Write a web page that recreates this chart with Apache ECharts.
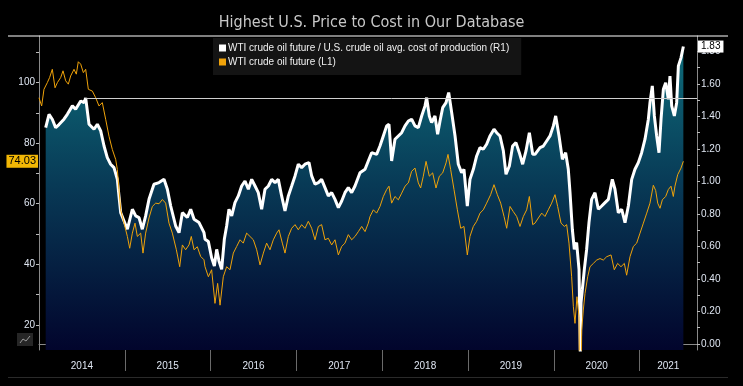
<!DOCTYPE html>
<html><head><meta charset="utf-8">
<script src="https://cdn.jsdelivr.net/npm/echarts@6/dist/echarts.min.js"></script>
<style>html,body{margin:0;padding:0;background:#000;}#c{width:743px;height:386px;}</style>
</head><body><div id="c"></div>
<script>
const titleText = 'Highest U.S. Price to Cost in Our Database';
const ratioName = 'WTI crude oil future / U.S. crude oil avg. cost of production (R1)';
const oilName = 'WTI crude oil future (L1)';

// x = decimal year, y = value
const ratioData = [
[2014.078,1.331],[2014.117,1.413],[2014.155,1.383],[2014.194,1.331],[2014.233,1.35],[2014.291,1.383],[2014.330,1.413],[2014.389,1.465],[2014.427,1.444],[2014.486,1.495],[2014.525,1.485],[2014.544,1.514],[2014.583,1.352],[2014.641,1.321],[2014.680,1.352],[2014.719,1.311],[2014.758,1.218],[2014.796,1.147],[2014.835,1.106],[2014.874,1.085],[2014.913,1.013],[2014.932,0.911],[2014.952,0.808],[2014.991,0.757],[2015.030,0.706],[2015.088,0.829],[2015.127,0.788],[2015.166,0.778],[2015.204,0.706],[2015.243,0.788],[2015.282,0.890],[2015.340,0.983],[2015.399,0.993],[2015.457,1.013],[2015.496,0.952],[2015.535,0.849],[2015.593,0.726],[2015.632,0.685],[2015.671,0.808],[2015.729,0.778],[2015.768,0.829],[2015.807,0.767],[2015.865,0.747],[2015.923,0.685],
[2015.935,0.644],[2015.974,0.63],[2016.012,0.531],[2016.044,0.48],[2016.071,0.582],[2016.098,0.51],[2016.129,0.459],[2016.160,0.644],[2016.187,0.726],[2016.214,0.829],[2016.246,0.788],[2016.284,0.870],[2016.323,0.911],[2016.362,0.972],[2016.401,1.003],[2016.440,0.952],[2016.479,1.013],[2016.518,0.972],[2016.556,0.931],[2016.595,0.829],[2016.634,0.952],[2016.673,0.972],[2016.712,1.013],[2016.751,0.993],[2016.789,1.013],[2016.828,0.911],[2016.867,0.818],[2016.906,0.911],[2016.945,0.972],[2016.984,1.034],[2017.022,1.106],[2017.061,1.085],[2017.100,1.106],[2017.147,1.116],[2017.178,1.034],[2017.217,0.983],[2017.256,0.993],[2017.294,1.013],[2017.333,0.962],[2017.372,0.911],[2017.411,0.931],[2017.450,0.890],[2017.489,0.839],[2017.528,0.880],[2017.566,0.931],[2017.605,0.962],[2017.644,0.931],[2017.683,0.972],[2017.741,1.054],[2017.800,1.075],[2017.838,1.126],[2017.877,1.177],
[2017.897,1.177],[2017.935,1.167],[2017.974,1.218],[2018.013,1.28],[2018.052,1.342],[2018.079,1.352],[2018.110,1.126],[2018.149,1.26],[2018.188,1.28],[2018.227,1.3],[2018.266,1.342],[2018.305,1.372],[2018.343,1.383],[2018.382,1.342],[2018.421,1.331],[2018.460,1.403],[2018.499,1.465],[2018.518,1.516],[2018.549,1.403],[2018.576,1.362],[2018.615,1.403],[2018.646,1.29],[2018.674,1.372],[2018.705,1.454],[2018.744,1.485],[2018.775,1.547],[2018.810,1.423],[2018.849,1.28],[2018.887,1.106],[2018.926,1.054],[2018.953,1.075],[2018.992,0.849],[2019.023,1.013],[2019.062,1.075],[2019.101,1.157],[2019.140,1.208],[2019.178,1.198],[2019.217,1.229],[2019.256,1.28],[2019.303,1.321],[2019.334,1.3],[2019.373,1.28],[2019.412,1.188],[2019.443,1.044],[2019.482,1.095],[2019.520,1.218],[2019.559,1.239],[2019.598,1.177],[2019.637,1.106],[2019.676,1.188],[2019.715,1.3],[2019.754,1.167],
[2019.781,1.167],[2019.839,1.208],[2019.878,1.218],[2019.917,1.249],[2019.956,1.28],[2019.995,1.342],[2020.022,1.403],[2020.061,1.28],[2020.100,1.136],[2020.138,1.177],[2020.169,1.075],[2020.189,0.931],[2020.216,0.706],[2020.239,0.583],[2020.266,0.624],[2020.294,0.459],[2020.309,-0.05],[2020.317,0.254],[2020.333,0.337],[2020.356,0.459],[2020.383,0.583],[2020.410,0.747],[2020.441,0.890],[2020.480,0.931],[2020.519,0.829],[2020.558,0.849],[2020.597,0.870],[2020.636,0.890],[2020.682,1.013],[2020.713,0.952],[2020.752,0.808],[2020.791,0.829],[2020.830,0.747],[2020.869,0.849],[2020.908,1.013],[2020.946,1.075],[2020.985,1.116],[2021.024,1.177],[2021.063,1.26],[2021.102,1.383],[2021.121,1.485],[2021.148,1.588],[2021.172,1.403],[2021.199,1.28],[2021.226,1.177],[2021.250,1.383],[2021.277,1.567],[2021.304,1.608],[2021.335,1.506],[2021.354,1.649],[2021.374,1.465],[2021.405,1.403],[2021.432,1.485],[2021.452,1.711],[2021.483,1.762],[2021.510,1.83]
];

const oilData = [
[2014.000,95.0],[2014.031,92.3],[2014.058,97.8],[2014.097,100.0],[2014.124,101.7],[2014.155,104.4],[2014.187,98.3],[2014.214,100.0],[2014.253,101.7],[2014.280,103.9],[2014.311,100.6],[2014.342,99.5],[2014.369,102.2],[2014.408,104.4],[2014.435,102.8],[2014.458,106.9],[2014.486,106.1],[2014.517,103.3],[2014.544,104.4],[2014.575,97.8],[2014.622,97.2],[2014.661,95.0],[2014.699,92.3],[2014.738,93.4],[2014.777,87.9],[2014.816,82.3],[2014.855,77.9],[2014.894,74.6],[2014.913,71.3],[2014.932,64.7],[2014.952,58.0],[2014.991,53.6],[2015.030,49.2],[2015.057,45.3],[2015.088,50.3],[2015.119,53.6],[2015.146,49.2],[2015.185,50.3],[2015.212,43.7],[2015.243,50.3],[2015.282,55.3],[2015.321,59.1],[2015.360,60.2],[2015.399,60.0],[2015.438,61.4],[2015.476,60.2],[2015.515,53.6],[2015.554,50.3],[2015.601,44.8],[2015.640,39.2],[2015.671,46.4],[2015.709,44.8],[2015.748,46.4],[2015.775,49.2],[2015.807,44.8],[2015.845,45.8],[2015.884,42.6],[2015.923,41.5],
[2015.935,39.2],[2015.974,35.9],[2016.012,38.2],[2016.051,27.1],[2016.082,33.7],[2016.110,26.5],[2016.148,35.9],[2016.187,39.2],[2016.226,38.2],[2016.265,43.7],[2016.304,45.9],[2016.343,48.1],[2016.381,47.0],[2016.420,50.3],[2016.459,49.2],[2016.498,48.1],[2016.537,44.8],[2016.576,39.8],[2016.615,43.7],[2016.653,47.0],[2016.692,44.8],[2016.731,48.1],[2016.770,50.3],[2016.797,51.4],[2016.836,47.0],[2016.867,43.7],[2016.906,49.2],[2016.945,51.9],[2016.984,53.1],[2017.022,51.4],[2017.061,53.1],[2017.100,51.9],[2017.139,54.2],[2017.178,51.9],[2017.217,48.1],[2017.256,52.5],[2017.294,53.1],[2017.333,48.1],[2017.372,48.6],[2017.411,46.4],[2017.450,48.1],[2017.489,43.1],[2017.528,45.9],[2017.566,47.0],[2017.605,49.8],[2017.644,48.1],[2017.683,49.2],[2017.722,50.8],[2017.761,52.5],[2017.800,50.8],[2017.838,53.6],
[2017.858,55.8],[2017.897,58.0],[2017.935,56.9],[2017.974,59.1],[2018.013,62.4],[2018.052,64.7],[2018.079,65.8],[2018.110,60.2],[2018.149,62.4],[2018.188,61.3],[2018.227,63.5],[2018.266,65.8],[2018.305,66.9],[2018.343,70.7],[2018.382,71.8],[2018.421,66.9],[2018.448,65.2],[2018.479,69.1],[2018.511,74.0],[2018.549,69.1],[2018.588,70.2],[2018.627,65.2],[2018.666,69.1],[2018.705,70.2],[2018.744,73.5],[2018.767,76.3],[2018.798,71.3],[2018.837,64.7],[2018.876,58.0],[2018.915,51.9],[2018.953,52.5],[2018.992,43.1],[2019.023,49.2],[2019.062,52.5],[2019.101,54.2],[2019.140,56.9],[2019.178,58.0],[2019.217,60.2],[2019.264,63.0],[2019.303,66.3],[2019.342,63.0],[2019.381,60.2],[2019.420,55.8],[2019.451,51.9],[2019.490,59.1],[2019.528,57.4],[2019.567,55.8],[2019.606,52.5],[2019.645,55.8],[2019.684,58.0],[2019.715,62.4],[2019.754,53.1],
[2019.781,53.6],[2019.820,55.3],[2019.859,56.9],[2019.897,55.8],[2019.936,58.0],[2019.975,60.2],[2020.014,63.0],[2020.045,59.1],[2020.084,53.6],[2020.123,52.5],[2020.150,53.1],[2020.177,47.0],[2020.208,35.9],[2020.228,26.0],[2020.247,20.5],[2020.270,29.3],[2020.294,22.7],[2020.309,-37.6],[2020.325,18.3],[2020.344,24.9],[2020.364,30.4],[2020.395,35.9],[2020.422,39.2],[2020.461,40.3],[2020.500,41.4],[2020.539,41.9],[2020.577,41.4],[2020.616,42.5],[2020.667,43.1],[2020.705,38.2],[2020.744,40.3],[2020.783,39.2],[2020.822,40.3],[2020.849,36.4],[2020.888,42.5],[2020.927,45.9],[2020.966,47.0],[2021.005,50.3],[2021.044,53.6],[2021.083,56.9],[2021.121,60.2],[2021.160,66.1],[2021.187,64.4],[2021.211,60.2],[2021.238,58.5],[2021.265,61.3],[2021.304,62.4],[2021.335,64.7],[2021.366,65.8],[2021.393,62.4],[2021.412,65.8],[2021.444,69.6],[2021.483,71.8],[2021.510,74.03]
];

const yearLabels = ['2014','2015','2016','2017','2018','2019','2020','2021'];
const yearLabelPos = [2014.5,2015.5,2016.5,2017.5,2018.5,2019.5,2020.5,2021.334];
const yearBounds = [2015,2016,2017,2018,2019,2020,2021];
const quarterTicks = [2014.25,2014.5,2014.75,2015.25,2015.5,2015.75,2016.25,2016.5,2016.75,2017.25,2017.5,2017.75,2018.25,2018.5,2018.75,2019.25,2019.5,2019.75,2020.25,2020.5,2020.75,2021.25,2021.5];
const leftLabels = [20,40,60,80,100];
const leftTicks = [20,30,40,50,60,70,80,90,100,110];
const rightLabels = [0,0.2,0.4,0.6,0.8,1.0,1.2,1.4,1.6,1.8];
const rightTicks = [0,0.1,0.2,0.3,0.4,0.5,0.6,0.7,0.8,0.9,1.0,1.1,1.2,1.3,1.4,1.5,1.6,1.7,1.8];
const lastOil = 74.03;
const lastRatio = 1.83;
const refLevel = 1.514;
const refStart = 2014.544;
const xMin = 2014, xMax = 2021.669;
const leftMin = 11.7, leftMax = 115.4;
const rightMin = -0.037, rightMax = 1.895;

const chart = echarts.init(document.getElementById('c'), null, {renderer: 'canvas'});
const labelFont = 'Liberation Sans';
const option = {
  backgroundColor: '#000',
  animation: false,
  title: {
    text: titleText, left: 'center', top: 10,
    textStyle: {color: '#c8c8c8', fontSize: 16, fontWeight: 'normal',
      fontFamily: "'Liberation Sans Narrow','DejaVu Sans Condensed','Roboto Condensed',Roboto,sans-serif"}
  },
  legend: {
    orient: 'vertical', left: 213, top: 38, icon: 'rect', itemWidth: 7, itemHeight: 7, itemGap: 4,
    backgroundColor: '#141414', padding: [5, 12, 8, 6],
    textStyle: {color: '#f0f0f0', fontSize: 10, fontFamily: labelFont, padding: [0, 0, 0, -3]},
    data: [ratioName, oilName]
  },
  grid: {left: 39, right: 46, top: 36, bottom: 36},
  xAxis: [{
    type: 'value', min: xMin, max: xMax,
    axisLine: {lineStyle: {color: '#8a8a8a'}},
    splitLine: {show: false},
    axisTick: {customValues: yearBounds, length: 27, lineStyle: {color: '#6a6a6a'}},
    axisLabel: {customValues: yearLabelPos, formatter: v => yearLabels[yearLabelPos.indexOf(v)],
      color: '#dfe6f2', fontSize: 10, margin: 11, fontFamily: labelFont}
  }, {
    type: 'value', min: xMin, max: xMax, position: 'bottom',
    axisLine: {show: false}, splitLine: {show: false}, axisLabel: {show: false},
    axisTick: {customValues: quarterTicks, inside: true, length: 3, lineStyle: {color: '#8a8a8a'}}
  }],
  yAxis: [{
    type: 'value', position: 'left', min: leftMin, max: leftMax,
    axisLine: {show: true, lineStyle: {color: '#8a8a8a'}},
    splitLine: {show: false},
    axisTick: {show: true, customValues: leftTicks, length: 3, lineStyle: {color: '#bbb'}},
    axisLabel: {customValues: leftLabels, color: '#dfe6f2', fontSize: 10, margin: 4, fontFamily: labelFont},
    axisPointer: {show: true, value: lastOil, status: 'show', triggerTooltip: false, type: 'line',
      lineStyle: {opacity: 0},
      label: {show: true, formatter: p => Number(p.value).toFixed(2), backgroundColor: '#f2b705', color: '#000',
        fontSize: 11, fontFamily: labelFont, padding: [1, 2, 1, 2], margin: 1, borderRadius: 0}}
  }, {
    type: 'value', position: 'right', min: rightMin, max: rightMax,
    axisLine: {show: true, lineStyle: {color: '#8a8a8a'}},
    splitLine: {show: false},
    axisTick: {show: true, customValues: rightTicks, length: 3, lineStyle: {color: '#bbb'}},
    axisLabel: {customValues: rightLabels, formatter: v => v.toFixed(2), color: '#dfe6f2', fontSize: 10, margin: 4, fontFamily: labelFont},
    axisPointer: {show: true, value: lastRatio, status: 'show', triggerTooltip: false, type: 'line',
      lineStyle: {opacity: 0},
      label: {show: true, formatter: p => Number(p.value).toFixed(2), backgroundColor: '#ffffff', color: '#000',
        fontSize: 10, fontFamily: labelFont, padding: [1, 3, 1, 3], margin: 1, borderRadius: 0}}
  }],
  series: [{
    name: ratioName, type: 'line', xAxisIndex: 0, yAxisIndex: 1, data: ratioData,
    symbol: 'none', color: '#ffffff', z: 2,
    lineStyle: {color: '#ffffff', width: 3},
    areaStyle: {origin: 'start', opacity: 1, color: new echarts.graphic.LinearGradient(0, 0, 0, 1, [
      {offset: 0, color: '#0e6c7a'}, {offset: 0.45, color: '#083a56'}, {offset: 1, color: '#02042c'}])},
    markLine: {silent: true, symbol: 'none', label: {show: false},
      lineStyle: {color: '#cfcfcf', width: 1, type: 'solid'},
      data: [[{coord: [refStart, refLevel]}, {coord: [xMax, refLevel]}]]}
  }, {
    name: oilName, type: 'line', xAxisIndex: 0, yAxisIndex: 0, data: oilData,
    symbol: 'none', color: '#f0a30a', z: 3,
    lineStyle: {color: '#f0a30a', width: 1}
  }],
  graphic: [
    {type: 'line', shape: {x1: 8, y1: 36, x2: 728, y2: 36}, style: {stroke: '#ffffff', lineWidth: 1}, z: 10},
    {type: 'line', shape: {x1: 8, y1: 377.5, x2: 728, y2: 377.5}, style: {stroke: '#2a2a2a', lineWidth: 1}},
    {type: 'rect', shape: {x: 17, y: 333, width: 16, height: 13}, style: {fill: '#262626'}},
    {type: 'polyline', shape: {points: [[20, 343], [23, 339], [26, 341], [30, 336]]}, style: {stroke: '#9a9a9a', lineWidth: 1, fill: null}}
  ]
};
chart.setOption(option);
</script>
</body></html>
